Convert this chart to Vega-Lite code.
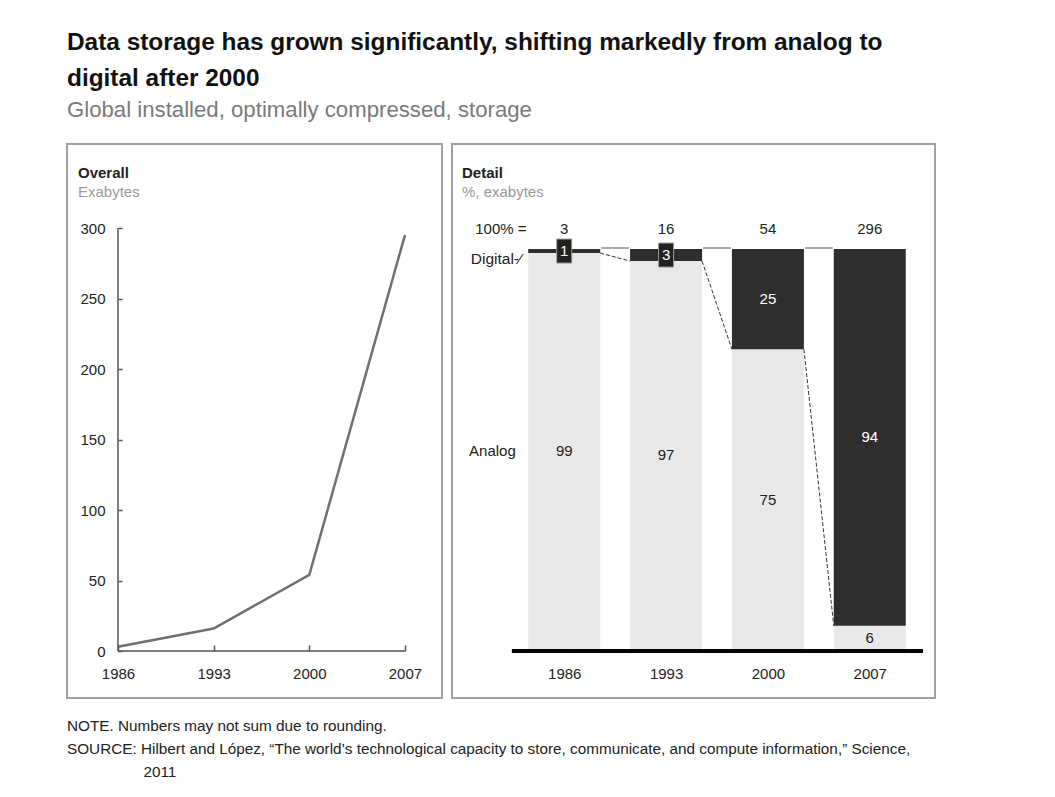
{
  "$schema": "https://vega.github.io/schema/vega-lite/v6.json",
  "padding": {"left": 66, "top": 30, "right": 10, "bottom": 5},
  "background": "white",
  "title": {
    "text": ["Data storage has grown significantly, shifting markedly from analog to", "digital after 2000"],
    "subtitle": "Global installed, optimally compressed, storage",
    "anchor": "start",
    "frame": "group",
    "font": "Liberation Sans",
    "fontSize": 24.4,
    "fontWeight": "bold",
    "color": "#111111",
    "lineHeight": 36,
    "subtitleFont": "Liberation Sans",
    "subtitleFontSize": 22.2,
    "subtitleColor": "#7a7a7a",
    "subtitlePadding": 7,
    "offset": 21
  },
  "datasets": {
    "overall": [
      {"year": 1986, "exabytes": 3},
      {"year": 1993, "exabytes": 16},
      {"year": 2000, "exabytes": 54},
      {"year": 2007, "exabytes": 295}
    ],
    "detail": [
      {"year": 1986, "type": "Analog", "pct": 99, "total": 3},
      {"year": 1986, "type": "Digital", "pct": 1, "total": 3},
      {"year": 1993, "type": "Analog", "pct": 97, "total": 16},
      {"year": 1993, "type": "Digital", "pct": 3, "total": 16},
      {"year": 2000, "type": "Analog", "pct": 75, "total": 54},
      {"year": 2000, "type": "Digital", "pct": 25, "total": 54},
      {"year": 2007, "type": "Analog", "pct": 6, "total": 296},
      {"year": 2007, "type": "Digital", "pct": 94, "total": 296}
    ]
  },
  "vconcat": [
    {
      "title": {
        "text": [
          "NOTE. Numbers may not sum due to rounding.",
          "SOURCE: Hilbert and López, “The world’s technological capacity to store, communicate, and compute information,” Science,",
          "\u200b\u2003\u2003\u2003\u2003\u20032011"
        ],
        "orient": "bottom",
        "anchor": "start",
        "frame": "group",
        "font": "Liberation Sans",
        "fontSize": 15.3,
        "fontWeight": "normal",
        "color": "#222222",
        "lineHeight": 23,
        "offset": 20
      },
      "spacing": 8,
      "hconcat": [
        {
          "width": 375,
          "height": 554,
          "title": {
            "text": "Overall",
            "subtitle": "Exabytes",
            "anchor": "start",
            "frame": "group",
            "dx": 11,
            "dy": 56,
            "offset": 0,
            "font": "Liberation Sans",
            "fontSize": 15,
            "fontWeight": "bold",
            "color": "#222222",
            "subtitleFont": "Liberation Sans",
            "subtitleFontSize": 15,
            "subtitleColor": "#9a9a9a",
            "subtitlePadding": 4
          },
          "layer": [
            {
              "data": {"name": "overall"},
              "mark": {"type": "line", "color": "#707070", "strokeWidth": 2.5},
              "encoding": {
                "x": {
                  "field": "year",
                  "type": "quantitative",
                  "scale": {"domain": [1982.27, 2009.71], "nice": false, "zero": false},
                  "axis": {
                    "values": [1986, 1993, 2000, 2007],
                    "format": "d",
                    "offset": -47,
                    "domain": false,
                    "grid": false,
                    "ticks": true,
                    "tickSize": -6,
                    "tickColor": "#555555",
                    "tickWidth": 1.5,
                    "labelPadding": 21,
                    "labelFont": "Liberation Sans",
                    "labelFontSize": 15,
                    "labelColor": "#222222",
                    "title": null
                  }
                },
                "y": {
                  "field": "exabytes",
                  "type": "quantitative",
                  "scale": {"domain": [-33.3, 359.6], "nice": false, "zero": false},
                  "axis": {
                    "values": [0, 50, 100, 150, 200, 250, 300],
                    "offset": -51,
                    "domain": false,
                    "grid": false,
                    "ticks": true,
                    "tickSize": -4,
                    "tickColor": "#555555",
                    "tickWidth": 1.5,
                    "labelPadding": 17,
                    "labelFont": "Liberation Sans",
                    "labelFontSize": 15,
                    "labelColor": "#222222",
                    "title": null
                  }
                }
              }
            },
            {
              "data": {"values": [{}]},
              "mark": {"type": "rule", "color": "#555555", "strokeWidth": 1.5},
              "encoding": {
                "x": {"datum": 1986, "type": "quantitative"},
                "y": {"datum": 0, "type": "quantitative"},
                "y2": {"datum": 300}
              }
            },
            {
              "data": {"values": [{}]},
              "mark": {"type": "rule", "color": "#555555", "strokeWidth": 1.5},
              "encoding": {
                "x": {"datum": 1986, "type": "quantitative"},
                "x2": {"datum": 2007},
                "y": {"datum": 0, "type": "quantitative"}
              }
            }
          ]
        },
        {
          "width": 483,
          "height": 554,
          "title": {
            "text": "Detail",
            "subtitle": "%, exabytes",
            "anchor": "start",
            "frame": "group",
            "dx": 10,
            "dy": 56,
            "offset": 0,
            "font": "Liberation Sans",
            "fontSize": 15,
            "fontWeight": "bold",
            "color": "#222222",
            "subtitleFont": "Liberation Sans",
            "subtitleFontSize": 15,
            "subtitleColor": "#9a9a9a",
            "subtitlePadding": 4
          },
          "layer": [
            {
              "data": {"name": "detail"},
              "mark": {"type": "bar", "width": 72},
              "encoding": {
                "x": {
                  "field": "year",
                  "type": "quantitative",
                  "scale": {"domain": [1978.63, 2011.14], "nice": false, "zero": false},
                  "axis": {
                    "values": [1986, 1993, 2000, 2007],
                    "format": "d",
                    "offset": -48,
                    "domain": false,
                    "grid": false,
                    "ticks": false,
                    "labelPadding": 16,
                    "labelFont": "Liberation Sans",
                    "labelFontSize": 15,
                    "labelColor": "#222222",
                    "title": null
                  }
                },
                "y": {
                  "field": "pct",
                  "type": "quantitative",
                  "stack": "zero",
                  "scale": {"domain": [-12, 126.2], "nice": false, "zero": false},
                  "axis": null
                },
                "color": {
                  "field": "type",
                  "type": "nominal",
                  "scale": {"domain": ["Analog", "Digital"], "range": ["#e8e8e8", "#2e2e2e"]},
                  "legend": null
                },
                "order": {"field": "type"}
              }
            },
            {
              "data": {"name": "detail"},
              "transform": [
                {"filter": "datum.type == 'Analog'"},
                {"window": [{"op": "lead", "field": "year", "as": "nyear"}, {"op": "lead", "field": "pct", "as": "npct"}], "sort": [{"field": "year"}]},
                {"filter": "datum.nyear != null"}
              ],
              "mark": {"type": "rule", "xOffset": 36, "x2Offset": -36, "color": "#333333", "strokeWidth": 1, "strokeDash": [4, 2]},
              "encoding": {
                "x": {"field": "year", "type": "quantitative"},
                "x2": {"field": "nyear"},
                "y": {"field": "pct", "type": "quantitative"},
                "y2": {"field": "npct"}
              }
            },
            {
              "data": {"name": "detail"},
              "transform": [
                {"filter": "datum.type == 'Analog'"},
                {"window": [{"op": "lead", "field": "year", "as": "nyear"}], "sort": [{"field": "year"}]},
                {"filter": "datum.nyear != null"}
              ],
              "mark": {"type": "rule", "xOffset": 37, "x2Offset": -37, "yOffset": -1, "color": "#aaaaaa", "strokeWidth": 2},
              "encoding": {
                "x": {"field": "year", "type": "quantitative"},
                "x2": {"field": "nyear"},
                "y": {"datum": 100, "type": "quantitative"}
              }
            },
            {
              "data": {"name": "detail"},
              "mark": {"type": "point", "shape": "M-0.625,-1H0.625V1H-0.625Z", "filled": true, "size": 576, "fill": "#222222", "stroke": "#999999", "strokeWidth": 1},
              "encoding": {
                "x": {"field": "year", "type": "quantitative"},
                "y": {"field": "pct", "type": "quantitative", "stack": "zero", "bandPosition": 0.5},
                "detail": {"field": "type"},
                "order": {"field": "type"},
                "opacity": {"condition": {"test": "datum.type == 'Digital' && datum.pct < 5", "value": 1}, "value": 0}
              }
            },
            {
              "data": {"name": "detail"},
              "mark": {"type": "text", "font": "Liberation Sans", "fontSize": 15},
              "encoding": {
                "x": {"field": "year", "type": "quantitative"},
                "y": {"field": "pct", "type": "quantitative", "stack": "zero", "bandPosition": 0.5},
                "detail": {"field": "type"},
                "order": {"field": "type"},
                "text": {"field": "pct"},
                "color": {"condition": {"test": "datum.type == 'Digital'", "value": "white"}, "value": "#222222"}
              }
            },
            {
              "data": {"name": "detail"},
              "transform": [{"filter": "datum.type == 'Analog'"}],
              "mark": {"type": "text", "font": "Liberation Sans", "fontSize": 15, "color": "#222222"},
              "encoding": {
                "x": {"field": "year", "type": "quantitative"},
                "y": {"datum": 105, "type": "quantitative"},
                "text": {"field": "total"}
              }
            },
            {
              "data": {"values": [{}]},
              "mark": {"type": "text", "text": "100% =", "align": "right", "font": "Liberation Sans", "fontSize": 15, "color": "#222222"},
              "encoding": {
                "x": {"datum": 1983.41, "type": "quantitative"},
                "y": {"datum": 105, "type": "quantitative"}
              }
            },
            {
              "data": {"values": [{}]},
              "mark": {"type": "text", "text": "Digital-⁄", "align": "right", "font": "Liberation Sans", "fontSize": 15.5, "color": "#222222"},
              "encoding": {
                "x": {"datum": 1983.07, "type": "quantitative"},
                "y": {"datum": 97.5, "type": "quantitative"}
              }
            },
            {
              "data": {"values": [{}]},
              "mark": {"type": "text", "text": "Analog", "align": "right", "font": "Liberation Sans", "fontSize": 15, "color": "#222222"},
              "encoding": {
                "x": {"datum": 1982.67, "type": "quantitative"},
                "y": {"datum": 49.6, "type": "quantitative"}
              }
            },
            {
              "data": {"values": [{}]},
              "mark": {"type": "rule", "color": "#000000", "strokeWidth": 4, "yOffset": 1},
              "encoding": {
                "x": {"datum": 1982.4, "type": "quantitative"},
                "x2": {"datum": 2010.66},
                "y": {"datum": 0, "type": "quantitative"}
              }
            }
          ]
        }
      ]
    }
  ],
  "config": {
    "view": {"stroke": "#a0a0a0", "strokeWidth": 2},
    "font": "Liberation Sans"
  }
}
